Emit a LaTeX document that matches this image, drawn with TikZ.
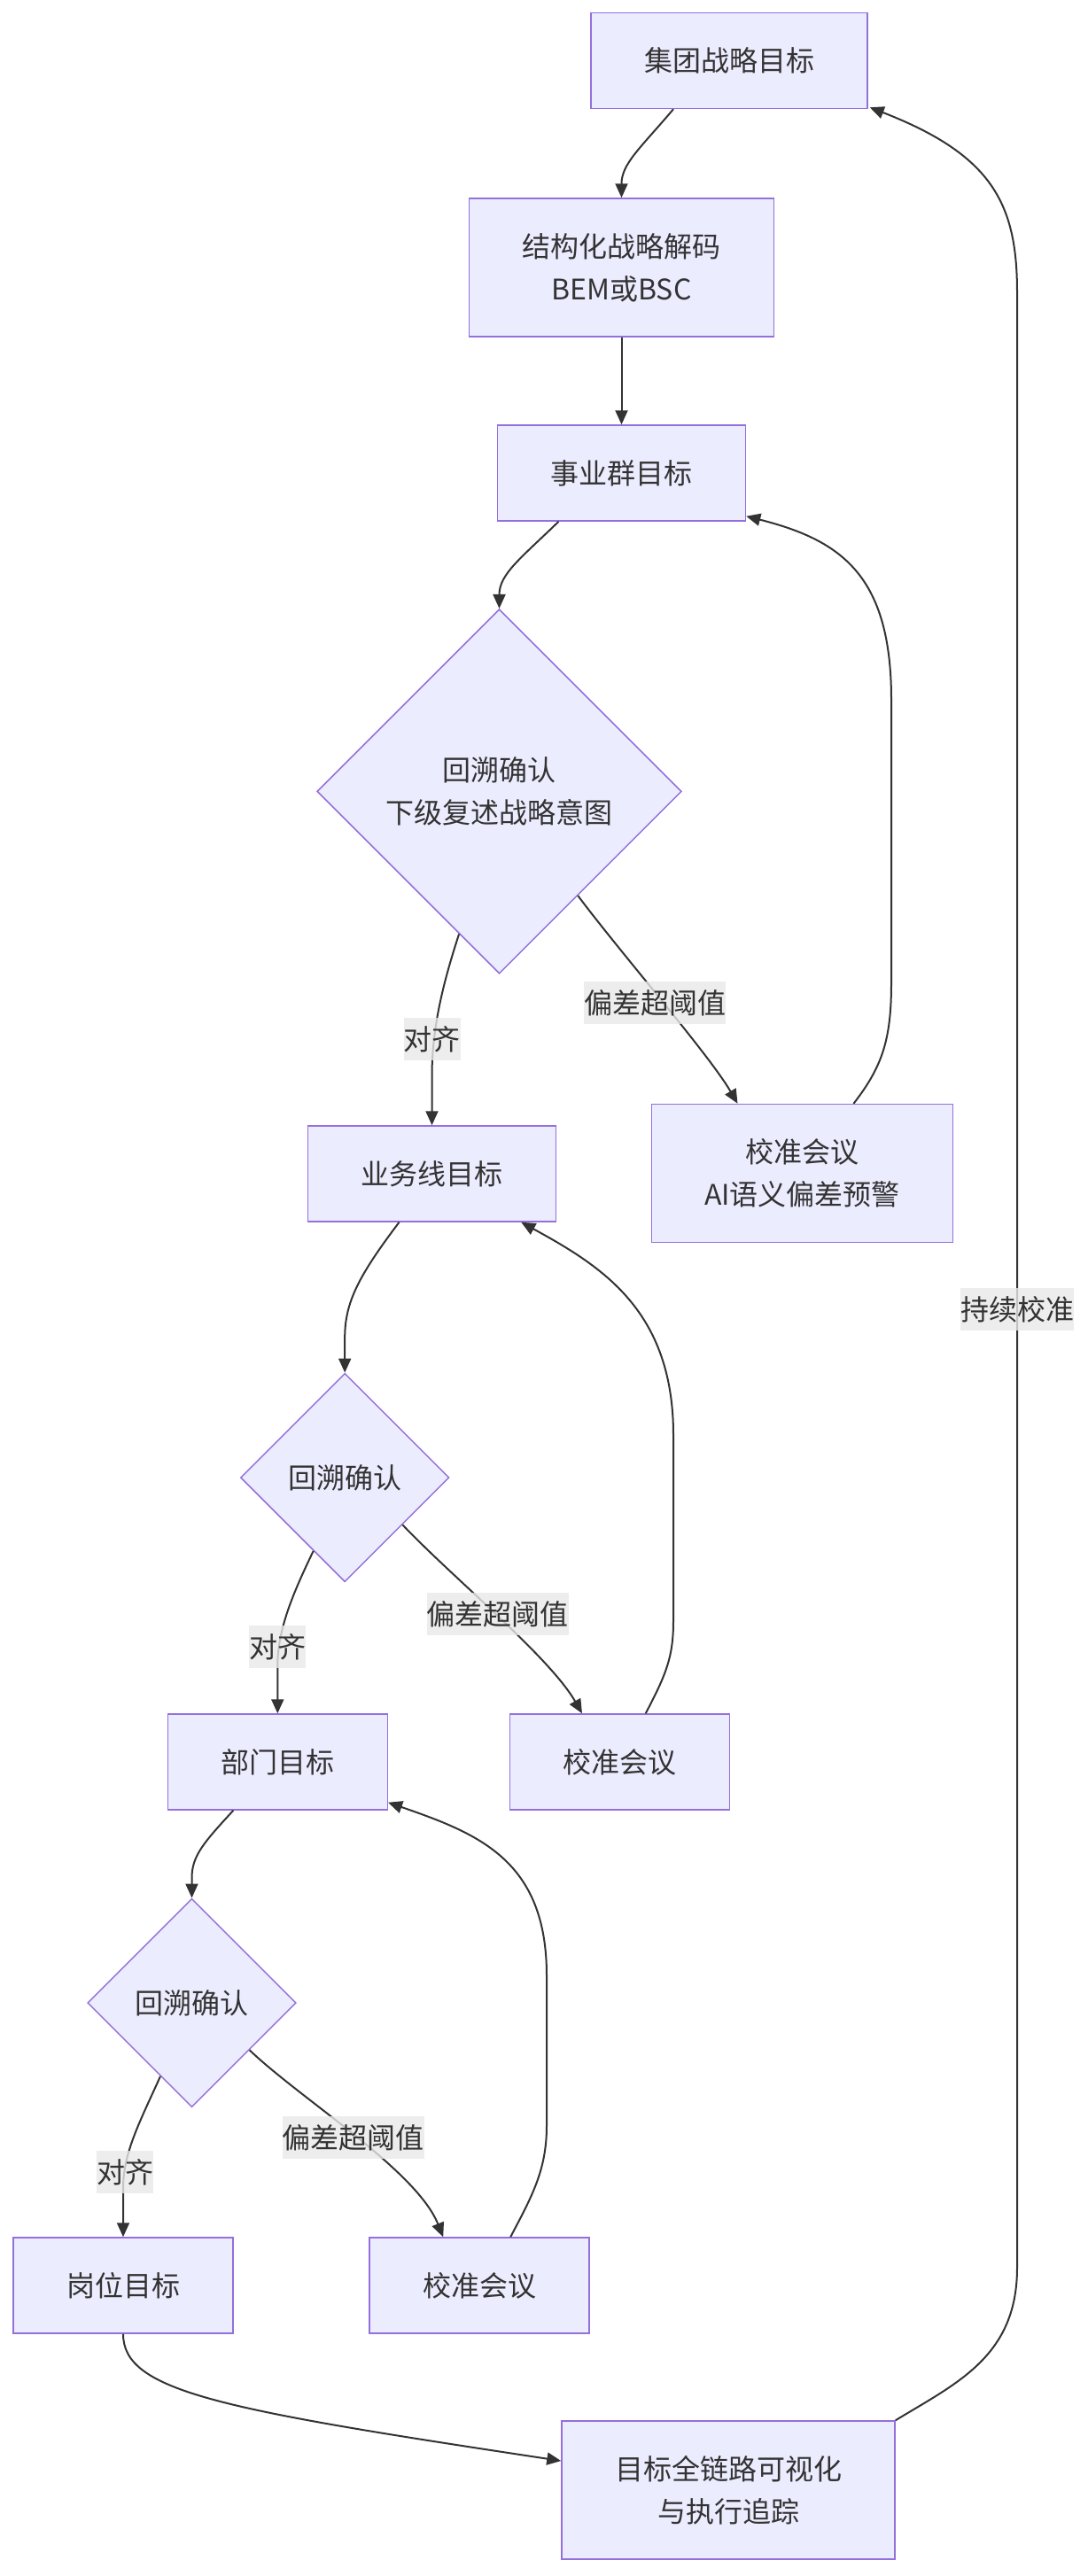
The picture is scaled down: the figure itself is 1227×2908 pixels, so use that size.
\documentclass[tikz,border=0pt]{standalone}
\usepackage{fontspec}
\setmainfont{Noto Sans CJK SC}
\usetikzlibrary{shapes.geometric,arrows.meta,calc}
\definecolor{nodefill}{HTML}{ECECFF}
\definecolor{nodeborder}{HTML}{9370DB}
\definecolor{edgec}{HTML}{333333}
\definecolor{textc}{HTML}{333333}
\definecolor{lblc}{HTML}{E8E8E8}
\tikzset{
  fnt/.style={font=\fontsize{32}{48}\selectfont, text=textc},
  box/.style={fnt, draw=nodeborder, fill=nodefill, line width=1.5pt, inner sep=0pt, minimum height=108pt, align=center},
  dia/.style={fnt, diamond, aspect=1, draw=nodeborder, fill=nodefill, line width=1.5pt, inner sep=0pt, align=center},
  lbl/.style={fnt, fill=lblc, fill opacity=0.8, text opacity=1, inner xsep=0pt, inner ysep=0pt, minimum height=48pt},
  edge/.style={draw=edgec, line width=2pt, -{Triangle[length=16pt,width=14pt]}}
}
\begin{document}
\begin{tikzpicture}[x=1pt,y=-1pt]
\useasboundingbox (0,0) rectangle (1227,2908);
% nodes
\node[box, minimum width=312pt] (A) at (823,68.5) {集团战略目标};
\node[box, minimum width=344pt, minimum height=156pt] (B) at (701.5,302) {结构化战略解码\\BEM或BSC};
\node[box, minimum width=280pt] (C) at (701.5,534) {事业群目标};
\node[dia, minimum size=411.4pt] (D1) at (563.5,893.4) {回溯确认\\下级复述战略意图};
\node[box, minimum width=340pt, minimum height=156pt] (E1) at (905.5,1324.5) {校准会议\\AI语义偏差预警};
\node[box, minimum width=280pt] (F) at (487.5,1325) {业务线目标};
\node[dia, minimum size=235.4pt] (D2) at (389.2,1668) {回溯确认};
\node[box, minimum width=248pt] (E2) at (699.7,1989) {校准会议};
\node[box, minimum width=248pt] (G) at (313.3,1989) {部门目标};
\node[dia, minimum size=235.4pt] (D3) at (216.5,2261) {回溯确认};
\node[box, minimum width=248pt] (E3) at (541.2,2580) {校准会议};
\node[box, minimum width=248pt] (H) at (139,2580) {岗位目标};
\node[box, minimum width=376pt, minimum height=156pt] (I) at (822,2811) {目标全链路可视化\\与执行追踪};
% edges
\draw[edge] ($(A.south)+(-63,0)$) .. controls (722,168) and (701.5,185) .. (B.north);
\draw[edge] (B.south) -- (C.north);
\draw[edge] ($(C.south)+(-71,0)$) .. controls (588,630) and (563.5,648) .. (D1.north);
\draw[edge] ($(D1.south)!0.22!(D1.west)$) .. controls (500,1110) and (487.5,1160) .. (487.5,1215) -- (F.north);
\draw[edge] ($(D1.south)!0.43!(D1.east)$) .. controls (700,1075) and (800,1190) .. ($(E1.north)+(-73,0)$);
\draw[edge] ($(E1.north)+(58,0)$) .. controls (995,1205) and (1006,1175) .. (1006,1110) -- (1006,790) .. controls (1006,650) and (950,610) .. ($(C.south east)+(0,-6)$);
\draw[edge] ($(F.south)+(-37,0)$) .. controls (405,1440) and (389.2,1470) .. (389.2,1510) -- (D2.north);
\draw[edge] ($(D2.south)!0.3!(D2.west)$) .. controls (330,1800) and (313.3,1840) .. (313.3,1880) -- (G.north);
\draw[edge] ($(D2.south)!0.55!(D2.east)$) .. controls (510,1780) and (620,1870) .. ($(E2.north)+(-42.7,0)$);
\draw[edge] ($(E2.north)+(29,0)$) .. controls (752,1890) and (760,1870) .. (760,1830) -- (760,1620) .. controls (760,1480) and (680,1430) .. ($(F.south east)+(-40,0)$);
\draw[edge] ($(G.south)+(-50,0)$) .. controls (230,2080) and (216.5,2095) .. (216.5,2120) -- (D3.north);
\draw[edge] ($(D3.south)!0.3!(D3.west)$) .. controls (158,2395) and (139,2430) .. (139,2470) -- (H.north);
\draw[edge] ($(D3.south)!0.55!(D3.east)$) .. controls (340,2370) and (470,2450) .. ($(E3.north)+(-41,0)$);
\draw[edge] ($(E3.north)+(35,0)$) .. controls (600,2480) and (617,2450) .. (617,2400) -- (617,2230) .. controls (617,2100) and (540,2070) .. ($(G.south east)+(0,-9)$);
\draw[edge] (H.south) .. controls (139,2700) and (250,2720) .. ($(I.west)+(0,-33)$);
\draw[edge] (I.north east) .. controls (1080,2690) and (1148,2660) .. (1148,2560) -- (1148,330) .. controls (1148,230) and (1120,175) .. ($(A.south east)+(2,-2)$);
% labels
\node[lbl] (L1) at (487.5,1173) {对齐};
\node[lbl] (L2) at (739,1132) {偏差超阈值};
\node[lbl] (L3) at (313,1859) {对齐};
\node[lbl] (L4) at (561.6,1822) {偏差超阈值};
\node[lbl] (L5) at (141,2452) {对齐};
\node[lbl] (L6) at (398.5,2413) {偏差超阈值};
\node[lbl] (L7) at (1148,1478) {持续校准};
\end{tikzpicture}
\end{document}
